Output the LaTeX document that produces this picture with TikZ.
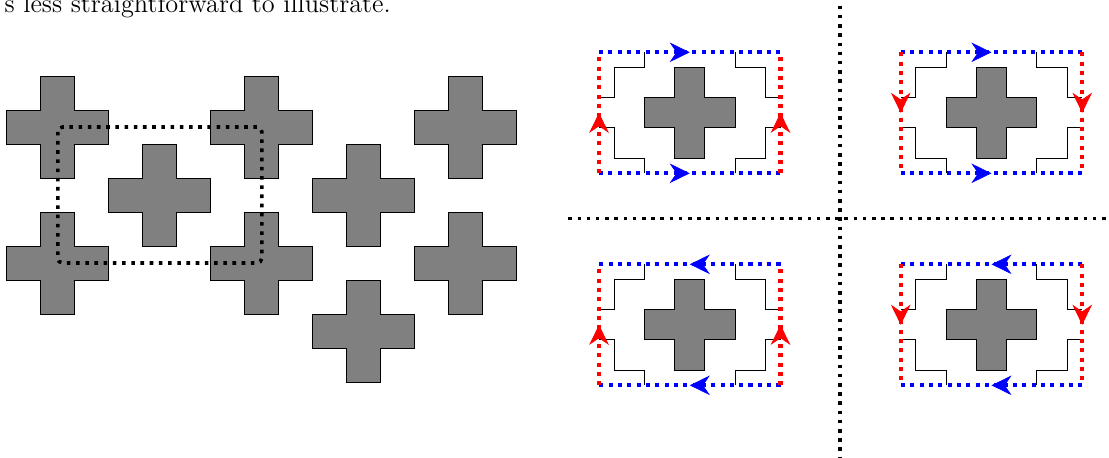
\documentclass[tikz,border=0pt]{standalone}
\usetikzlibrary{arrows.meta,decorations.markings}
\tikzset{
  x=0.4184pt, y=-0.4184pt,
  crossfill/.style={fill=gray, draw=black, line width=0.4pt},
  cornerline/.style={draw=black, line width=0.4pt},
  dotline/.style={line width=1.5pt, dash pattern=on 1.5pt off 2.35pt},
  celldot/.style={line width=1.7pt, dash pattern=on 1.7pt off 2.2pt},
  midarrow/.style={postaction={decorate}, decoration={markings,
      mark=at position 0.5 with {\arrow{Stealth[length=8.4pt,width=8.2pt,inset=2.8pt,line width=0.3pt]}}}},
}
\newcommand\crossat[3]{%
  \filldraw[crossfill, shift={(#1,#2)}, scale=#3]
    (-0.5,-1.5) -- (0.5,-1.5) -- (0.5,-0.5) -- (1.5,-0.5) -- (1.5,0.5) -- (0.5,0.5)
    -- (0.5,1.5) -- (-0.5,1.5) -- (-0.5,0.5) -- (-1.5,0.5) -- (-1.5,-0.5) -- (-0.5,-0.5) -- cycle;}
% #1,#2 : top-left corner; #3 = 1 (blue right) or -1 (blue left); #4 = 1 (red down) or -1 (red up)
\newcommand\cellpanel[4]{%
  \begin{scope}[shift={(#1,#2)}, scale=30.25]
    \crossat{3}{2}{1}
    \draw[cornerline] (1.5,0) -- (1.5,0.5) -- (0.5,0.5) -- (0.5,1.5) -- (0,1.5);
    \draw[cornerline] (4.5,0) -- (4.5,0.5) -- (5.5,0.5) -- (5.5,1.5) -- (6,1.5);
    \draw[cornerline] (1.5,4) -- (1.5,3.5) -- (0.5,3.5) -- (0.5,2.5) -- (0,2.5);
    \draw[cornerline] (4.5,4) -- (4.5,3.5) -- (5.5,3.5) -- (5.5,2.5) -- (6,2.5);
    \draw[celldot, blue, midarrow] ({3-3*#3},0) -- ({3+3*#3},0);
    \draw[celldot, blue, midarrow] ({3-3*#3},4) -- ({3+3*#3},4);
    \draw[celldot, red, midarrow] (0,{2-2*#4}) -- (0,{2+2*#4});
    \draw[celldot, red, midarrow] (6,{2-2*#4}) -- (6,{2+2*#4});
  \end{scope}}
\begin{document}
\begin{tikzpicture}
  \clip (0,0) rectangle (1109,458);
  \fill[white] (0,0) rectangle (1109,458);
  % text
  \node[anchor=base east, inner sep=0pt, font=\fontsize{11}{13}\selectfont] (txt) at (391.3,12.6) {s less straightforward to illustrate.};
  % lattice of crosses
  \begin{scope}[shift={(57.8,127)}]
    \foreach \c/\r in {0/0,0/4,3/2,6/0,6/4,9/2,9/6,12/0,12/4}
      {\crossat{34*\c}{34*\r}{34}}
    \draw[dotline, rounded corners=2pt] (0,0) rectangle (204,136);
  \end{scope}
  % dividers
  \draw[dotline] (840,5.7) -- (840,470);
  \draw[dotline] (568.3,218.3) -- (1120,218.3);
  % four panels
  \cellpanel{599}{52.3}{1}{-1}
  \cellpanel{900.7}{52.3}{1}{1}
  \cellpanel{599}{264.3}{-1}{-1}
  \cellpanel{900.7}{264.3}{-1}{1}
\end{tikzpicture}
\end{document}
